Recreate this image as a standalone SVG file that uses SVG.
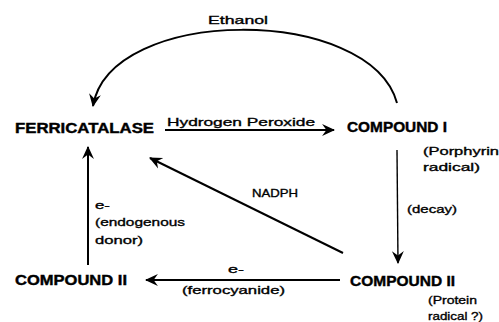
<svg xmlns="http://www.w3.org/2000/svg" width="499" height="322" viewBox="0 0 499 322">
<style>
.node{font-family:"Liberation Sans",Arial,sans-serif;font-weight:bold;font-size:14px;fill:#000;stroke:#000;stroke-width:0.4}
.lbl{font-family:"Liberation Sans",Arial,sans-serif;font-size:11.5px;fill:#000;stroke:#000;stroke-width:0.35}
.c{fill:none;stroke:#000;stroke-width:2}
</style>
<defs>
<marker id="ah" viewBox="0 0 12 12" refX="11" refY="6" markerWidth="13" markerHeight="13" markerUnits="userSpaceOnUse" orient="auto">
<path d="M0,0.5 L12,6 L0,11.5 L4,6 z" fill="#000"/>
</marker>
</defs>
<rect width="499" height="322" fill="#fff"/>
<g id="connectors">
<path class="c" d="M397,103 C370,5 110,5 93,106" marker-end="url(#ah)"/>
<line class="c" x1="165" y1="130" x2="334" y2="130" marker-end="url(#ah)"/>
<line class="c" x1="397" y1="150" x2="398" y2="263" style="stroke-width:1.4" marker-end="url(#ah)"/>
<line class="c" x1="343" y1="253" x2="150" y2="158" marker-end="url(#ah)"/>
<line class="c" x1="340" y1="280" x2="146" y2="280" marker-end="url(#ah)"/>
<line class="c" x1="88" y1="265" x2="88" y2="147" marker-end="url(#ah)"/>
<text class="lbl" x="208" y="24" textLength="60" lengthAdjust="spacingAndGlyphs">Ethanol</text>
<text class="lbl" x="167" y="126" textLength="148" lengthAdjust="spacingAndGlyphs">Hydrogen Peroxide</text>
<text class="lbl" x="252" y="197" textLength="46" lengthAdjust="spacingAndGlyphs">NADPH</text>
<text class="lbl" x="407" y="213" textLength="50" lengthAdjust="spacingAndGlyphs">(decay)</text>
<text class="lbl" x="95" y="209" textLength="15" lengthAdjust="spacingAndGlyphs">e-</text>
<text class="lbl" x="95" y="226" textLength="90" lengthAdjust="spacingAndGlyphs">(endogenous</text>
<text class="lbl" x="95" y="244" textLength="48" lengthAdjust="spacingAndGlyphs">donor)</text>
<text class="lbl" x="228" y="273" textLength="16" lengthAdjust="spacingAndGlyphs">e-</text>
<text class="lbl" x="182" y="294" textLength="103" lengthAdjust="spacingAndGlyphs">(ferrocyanide)</text>
</g>
<g id="ferricatalase"><text class="node" x="15" y="133" textLength="139" lengthAdjust="spacingAndGlyphs">FERRICATALASE</text></g>
<g id="compound1">
<text class="node" x="347" y="132" textLength="100" lengthAdjust="spacingAndGlyphs">COMPOUND I</text>
<text class="lbl" x="423" y="155" textLength="76" lengthAdjust="spacingAndGlyphs">(Porphyrin</text>
<text class="lbl" x="423" y="171" textLength="57" lengthAdjust="spacingAndGlyphs">radical)</text>
</g>
<g id="compound2right">
<text class="node" x="350" y="286" textLength="105" lengthAdjust="spacingAndGlyphs">COMPOUND II</text>
<text class="lbl" x="428" y="304" textLength="49" lengthAdjust="spacingAndGlyphs">(Protein</text>
<text class="lbl" x="428" y="320" textLength="55" lengthAdjust="spacingAndGlyphs">radical ?)</text>
</g>
<g id="compound2left"><text class="node" x="15" y="285" textLength="112" lengthAdjust="spacingAndGlyphs">COMPOUND II</text></g>
</svg>
